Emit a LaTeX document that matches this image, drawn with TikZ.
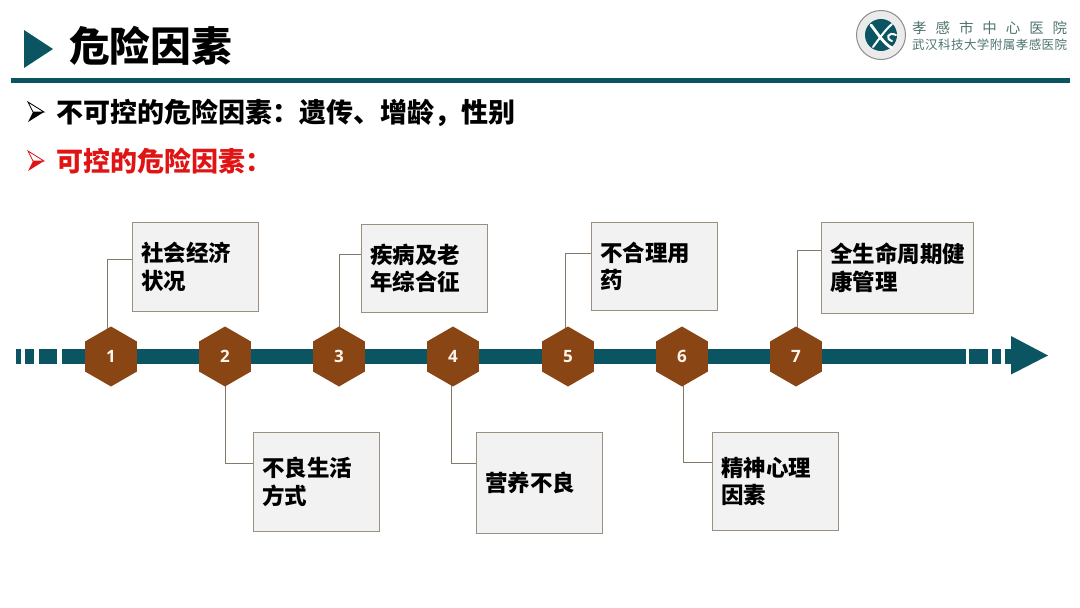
\documentclass[tikz,border=0pt]{standalone}
\usepackage{fontspec}
\setmainfont{Noto Sans CJK SC}
\newfontfamily\numfont{Open Sans}
\usetikzlibrary{shapes.geometric,backgrounds}
\definecolor{teal1}{HTML}{0B5563}
\definecolor{brown1}{HTML}{8A4514}
\definecolor{boxfill}{HTML}{F2F2F2}
\definecolor{boxline}{HTML}{9A8F80}
\definecolor{red1}{HTML}{E01414}
\definecolor{logotxt}{HTML}{4F7570}
\tikzset{
  hexnode/.style={regular polygon,regular polygon sides=6,shape border rotate=30,minimum size=60pt,inner sep=0pt,outer sep=0pt,fill=brown1,text=white!92!orange,font=\numfont\bfseries\fontsize{17}{17}\selectfont},
  infobox/.style={draw=boxline,line width=1pt,fill=boxfill,anchor=north west,align=left,inner xsep=8.5pt,inner ysep=0pt,text width=108.5pt,font=\bfseries\fontsize{22.5}{27.5}\selectfont},
  link/.style={draw=boxline!85!black,line width=1pt},
  barseg/.style={fill=teal1,draw=none},
  toptext/.style={anchor=west,inner sep=0pt,font=\bfseries\fontsize{27}{27}\selectfont},
  pics/arrowbullet/.style={code={
    \draw[#1,line width=0.8pt,fill=white,line join=miter] (0,0) -- (16,10) -- (5,10) -- cycle;
    \fill[#1] (5,10) -- (16,10) -- (0,20) -- cycle;
  }}
}
\begin{document}
\begin{tikzpicture}[x=1pt,y=-1pt]
\useasboundingbox (0,0) rectangle (1080,608);
% header
\fill[teal1] (24,30) -- (53,49) -- (24,68) -- cycle;
\node[anchor=west,inner sep=0pt,font=\bfseries\fontsize{40.7}{41}\selectfont] (title) at (69,46) {危险因素};
\fill[teal1] (11,78) rectangle (1070,82.5);
% logo
\node[circle,draw=black!45,line width=1pt,fill=black!8,minimum size=49pt,inner sep=0pt] (ring) at (881,35) {};
\fill[teal1] (ring.center) circle (16);
\draw[white,line width=2.8pt,line cap=round] (871,25) .. controls (878,34) and (884,44) .. (892,48);
\draw[white,line width=2pt,line cap=round] (873,47) .. controls (879,39) and (885,30) .. (892,24);
\draw[white,line width=2pt,line cap=round] (896,35) .. controls (888,31) and (885,39) .. (892,41);
\node[anchor=west,inner sep=0pt,text=logotxt,font=\fontsize{14.5}{15}\selectfont] (lg1) at (912,28) {\makebox[155pt][s]{孝\hfill 感\hfill 市\hfill 中\hfill 心\hfill 医\hfill 院}};
\node[anchor=west,inner sep=0pt,text=logotxt,font=\fontsize{12.5}{13}\selectfont] (lg2) at (912,45) {\makebox[155pt][s]{武\hfill 汉\hfill 科\hfill 技\hfill 大\hfill 学\hfill 附\hfill 属\hfill 孝\hfill 感\hfill 医\hfill 院}};
% bullets
\pic at (28,102) {arrowbullet=black};
\node[toptext] (t1) at (56,113) {不可控的危险因素：遗传、增龄，性别};
\pic at (28,151) {arrowbullet=red1};
\node[toptext,text=red1] (t2) at (56,161) {可控的危险因素：};
% timeline bar
\foreach \a/\b in {16/21,25/34,39/57,62/966,969/988,992/1001,1005/1011}
  \fill[barseg] (\a,349) rectangle (\b,364);
\fill[teal1] (1011,336) -- (1048,355.5) -- (1011,374.5) -- cycle;
% hexagons
\foreach \n/\x in {1/111,2/225,3/339,4/453,5/568,6/682,7/796}
  \node[hexnode] (h\n) at (\x,356.5) {\n};
% boxes
\node[infobox,minimum height=89pt] (b1) at (132,222) {社会经济\\状况};
\node[infobox,minimum height=99pt] (b2) at (253,432) {不良生活\\方式};
\node[infobox,minimum height=88pt] (b3) at (361,224) {疾病及老\\年综合征};
\node[infobox,minimum height=101pt] (b4) at (476,432) {营养不良};
\node[infobox,minimum height=88pt] (b5) at (591,222) {不合理用\\药};
\node[infobox,minimum height=98pt] (b6) at (712,432) {精神心理\\因素};
\node[infobox,text width=135pt,minimum height=91pt] (b7) at (821,222) {全生命周期健\\康管理};
% connectors
\begin{pgfonlayer}{background}
\draw[link] ([yshift=7.5pt]b1.west) -| ([xshift=-4pt]h1.center);
\draw[link] (h2.center) |- ([yshift=18.5pt]b2.west);
\draw[link] ([yshift=14pt]b3.west) -| (h3.center);
\draw[link] ([xshift=-2pt]h4.center) |- ([yshift=19.5pt]b4.west);
\draw[link] ([yshift=13pt]b5.west) -| ([xshift=-3pt]h5.center);
\draw[link] ([xshift=1pt]h6.center) |- ([yshift=19pt]b6.west);
\draw[link] ([yshift=17.5pt]b7.west) -| ([xshift=1pt]h7.center);
\end{pgfonlayer}
\end{tikzpicture}
\end{document}
